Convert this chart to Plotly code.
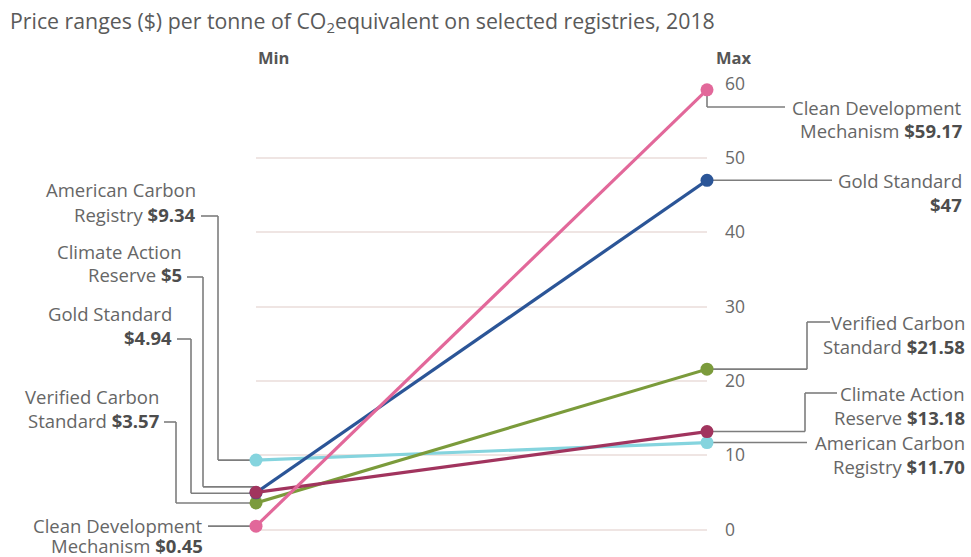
import plotly.graph_objects as go

# ---------------- data ----------------
registries = ["Clean Development Mechanism", "Gold Standard", "Verified Carbon Standard",
              "Climate Action Reserve", "American Carbon Registry"]
min_prices = [0.45, 4.94, 3.57, 5.00, 9.34]
max_prices = [59.17, 47.00, 21.58, 13.18, 11.70]
min_text = ["$0.45", "$4.94", "$3.57", "$5", "$9.34"]
max_text = ["$59.17", "$47", "$21.58", "$13.18", "$11.70"]
# name split over two lines: (first line, prefix of second line)
name_left = [("Clean Development", "Mechanism "), ("Gold Standard", ""), ("Verified Carbon", "Standard "),
             ("Climate Action", "Reserve "), ("American Carbon", "Registry ")]
name_right = [("Clean Development", "Mechanism "), ("Gold Standard", ""), ("Verified Carbon", "Standard "),
              ("Climate Action", "Reserve "), ("American Carbon", "Registry ")]
ends = ["Min", "Max"]
tick_vals = [0, 10, 20, 30, 40, 50, 60]
title = "Price ranges ($) per tonne of CO<sub>2</sub>equivalent on selected registries, 2018"

# ---------------- style ----------------
W, H = 971, 557
colors = ["#e2689a", "#2b5597", "#7b9b3b", "#a1345e", "#85d4de"]
draw_order = [4, 2, 1, 3, 0]
X_MIN_PX, X_MAX_PX = 256, 707
Y0_PX, Y60_PX = 529.5, 83.7
YMAX = 60
FONT = "Open Sans"
TXT = "#666666"
BOLD = "#4d4d4d"
LEAD = "#7d7d7d"
GRID = "#efe5e3"
FS = 18.5
LH = 24

def px(x):
    return x / W

def py(y):
    return 1 - y / H

def ypx(v):
    return Y0_PX - (Y0_PX - Y60_PX) * v / YMAX

fig = go.Figure()
for i in draw_order:
    fig.add_trace(go.Scatter(
        x=[0, 1], y=[min_prices[i], max_prices[i]], mode="lines+markers",
        line=dict(color=colors[i], width=3.2),
        marker=dict(color=colors[i], size=13),
        name=registries[i], hoverinfo="skip", cliponaxis=False))

shapes = []
annotations = []

def seg(x0, y0, x1, y1):
    shapes.append(dict(type="line", xref="paper", yref="paper",
                       x0=px(x0), y0=py(y0), x1=px(x1), y1=py(y1),
                       line=dict(color=LEAD, width=1.6), layer="between"))

def label(x, y, text):
    annotations.append(dict(xref="paper", yref="paper", x=px(x), y=py(y),
                            xanchor="right", yanchor="middle", showarrow=False,
                            text=text, font=dict(family=FONT, size=FS, color=TXT)))

def money(t):
    return "<b><span style='color:%s'>%s</span></b>" % (BOLD, t)

# left side leader layout: text right edge, label line2 y, vertical x, y-offset at end
left_layout = {
    4: dict(tr=198, ly=214, vx=218, off=0),
    3: dict(tr=184, ly=275, vx=203, off=-5.5),
    1: dict(tr=174, ly=337, vx=191, off=0.5),
    2: dict(tr=161, ly=420, vx=176, off=0),
}
for i, L in left_layout.items():
    ey = ypx(min_prices[i]) + L["off"]
    seg(L["tr"] + 3, L["ly"] + 2, L["vx"], L["ly"] + 2)
    seg(L["vx"], L["ly"] + 2, L["vx"], ey)
    seg(L["vx"], ey, X_MIN_PX, ey)
    l1, l2 = name_left[i]
    label(L["tr"], L["ly"] - LH, l1)
    label(L["tr"], L["ly"], l2 + money(min_text[i]))
# clean development mechanism (left): straight line
cy = ypx(min_prices[0])
seg(208, cy, X_MIN_PX, cy)
label(205, cy - 1, name_left[0][0])
label(205, cy + LH - 5, name_left[0][1] + money(min_text[0]))

# right side
# CDM: vertical down then across
cy = ypx(max_prices[0])
seg(X_MAX_PX, cy, X_MAX_PX, 107)
seg(X_MAX_PX, 107, 785, 107)
label(964, 107, name_right[0][0])
label(964, 107 + LH, name_right[0][1] + money(max_text[0]))
# Gold Standard: straight
gy = ypx(max_prices[1])
seg(X_MAX_PX, gy, 832, gy)
label(964, gy, name_right[1][0])
label(964, gy + LH, money(max_text[1]))
# VCS and CAR: elbow up
for i, (vx, ty, ex) in {2: (807, 322, 830), 3: (805, 393, 837)}.items():
    vy = ypx(max_prices[i])
    seg(X_MAX_PX, vy, vx, vy)
    seg(vx, vy, vx, ty)
    seg(vx, ty, ex, ty)
    label(967, ty, name_right[i][0])
    label(967, ty + LH, name_right[i][1] + money(max_text[i]))
# ACR: straight
ay = ypx(max_prices[4])
seg(X_MAX_PX, ay, 807, ay)
label(967, ay, name_right[4][0])
label(967, ay + LH, name_right[4][1] + money(max_text[4]))

# Min / Max headers
for xpx_, t in zip([X_MIN_PX, 714], ends):
    annotations.append(dict(xref="paper", yref="paper", x=px(xpx_), y=py(57),
                            xanchor="left", yanchor="middle", showarrow=False,
                            text="<b>" + t + "</b>", font=dict(family=FONT, size=16.5, color="#555")))
# title
annotations.append(dict(xref="paper", yref="paper", x=px(8), y=py(22), xanchor="left", yanchor="middle",
                        showarrow=False, text=title, font=dict(family=FONT, size=21.3, color="#5a5a5a")))

fig.update_layout(
    width=W, height=H, margin=dict(l=0, r=0, t=0, b=0, autoexpand=False),
    paper_bgcolor="white", plot_bgcolor="white", showlegend=False,
    xaxis=dict(domain=[px(X_MIN_PX), px(X_MAX_PX)], range=[0, 1], visible=False, fixedrange=True),
    yaxis=dict(domain=[py(Y0_PX), py(Y60_PX)], range=[0, YMAX], side="right",
               tickvals=tick_vals, showgrid=True, gridcolor=GRID, gridwidth=1.5,
               zeroline=True, zerolinecolor=GRID, zerolinewidth=1.5, showline=False,
               ticks="", ticklabelstandoff=17,
               tickfont=dict(family=FONT, size=17.5, color="#6a6a6a"), fixedrange=True),
    shapes=shapes, annotations=annotations,
)
fig.write_html("out.html")
